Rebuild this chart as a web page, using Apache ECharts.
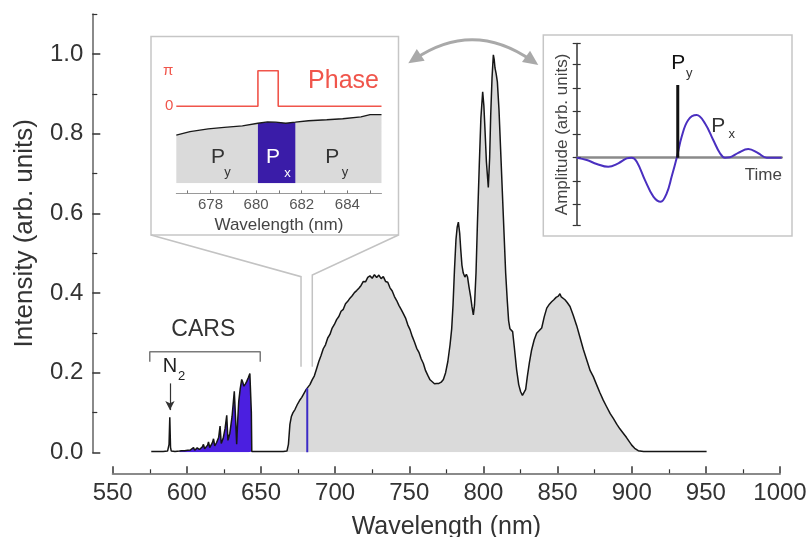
<!DOCTYPE html>
<html><head><meta charset="utf-8">
<script src="https://cdn.jsdelivr.net/npm/echarts@6/dist/echarts.min.js"></script>
<style>html,body{margin:0;padding:0;background:#fff}#c{width:812px;height:537px}</style>
</head><body><div id="c"></div>
<script>
// ---------------- DATA ----------------
const carsWavelength = [576,580,584,587,588,588.5,589,589.5,592,595,596.5,597.5,598.5,599.5,600.5,601.5,602.5,603.5,604.5,605.3,606,607,607.8,608.5,609.5,610.5,611.2,612,613,614,614.6,615.4,616.5,617.3,618,618.8,620,621.5,622.4,623.2,624.5,625.8,626.9,627.7,629,630.5,632,632.8,633.6,634.3,635,636,637,637.8,638.5,639.5,640.4,641.5,642.5,643.1,643.5,643.8];
const carsIntensity  = [0.002,0.002,0.002,0.003,0.02,0.088,0.012,0.003,0.002,0.003,0.004,0.007,0.004,0.008,0.005,0.009,0.006,0.009,0.012,0.005,0.008,0.011,0.015,0.007,0.011,0.014,0.02,0.009,0.014,0.018,0.026,0.012,0.019,0.025,0.034,0.016,0.024,0.038,0.066,0.022,0.035,0.06,0.093,0.03,0.048,0.09,0.153,0.09,0.02,0.08,0.128,0.16,0.183,0.175,0.166,0.172,0.178,0.188,0.198,0.202,0.1,0.002];

const mainWavelength = [648,655,660,665,667.5,668.5,669.5,670.5,671.5,673,674.5,676,677.5,679,680.5,681.5,683,684.5,686,687.5,689,690.5,692,693.5,695,696.5,698,699.5,701,702.5,704,705.5,707,708.5,710,711.5,713,714.5,716,717.5,719,720.5,722,723.5,725,726.5,728,729.5,731,732.5,734,735.5,737,738.5,740,741.5,743,744.5,746,747.5,749,750.5,752,753.5,755,756.5,758,759.5,761,762.5,764,765.5,767,768.5,770,771.5,773,774.5,776,777.5,778.6,779.5,780.5,781.5,782.3,783.1,784,784.7,785.5,786.4,787.5,788.5,789.3,790.3,791.4,792.3,793.2,794,795,796,797.2,798.3,799.5,800.3,801,802,803.3,804.2,804.9,805.8,806.7,807.3,807.8,808.6,809.4,810.5,811.6,812.8,813.9,815,816.1,817,817.9,818.8,819.7,820.8,822.4,823.8,825.1,826.3,827.4,828.5,829.6,831,832.5,834.2,835.9,837.5,839.3,841,842.7,844.5,846,847.5,849,850.5,851.6,852.5,853.5,855,856.5,858.4,860.5,862.9,865,867.4,870,872,874.1,876.5,878.5,880.8,883,885.5,887.6,890,892,894.3,896.5,898.5,900,902,904.4,908,915,925,935,945,950.5];
const mainIntensity  = [0.002,0.002,0.002,0.002,0.003,0.02,0.07,0.09,0.099,0.108,0.12,0.13,0.138,0.148,0.158,0.163,0.17,0.182,0.192,0.21,0.228,0.243,0.26,0.27,0.287,0.296,0.312,0.321,0.333,0.341,0.354,0.359,0.373,0.379,0.387,0.393,0.401,0.406,0.412,0.419,0.429,0.428,0.439,0.443,0.437,0.446,0.439,0.445,0.436,0.441,0.429,0.427,0.413,0.405,0.391,0.381,0.369,0.359,0.348,0.337,0.32,0.308,0.291,0.277,0.261,0.251,0.235,0.223,0.205,0.193,0.182,0.177,0.172,0.173,0.173,0.176,0.183,0.2,0.228,0.27,0.31,0.37,0.46,0.535,0.565,0.578,0.55,0.51,0.47,0.45,0.44,0.447,0.44,0.415,0.39,0.365,0.345,0.37,0.45,0.58,0.72,0.84,0.905,0.87,0.815,0.73,0.665,0.74,0.845,0.94,0.998,0.985,0.965,0.95,0.93,0.86,0.76,0.65,0.55,0.45,0.38,0.33,0.31,0.312,0.303,0.265,0.207,0.17,0.152,0.143,0.14,0.158,0.19,0.225,0.257,0.282,0.299,0.305,0.312,0.34,0.362,0.372,0.378,0.383,0.389,0.392,0.398,0.39,0.393,0.383,0.376,0.366,0.345,0.318,0.29,0.258,0.228,0.205,0.19,0.168,0.15,0.131,0.115,0.097,0.085,0.07,0.059,0.048,0.037,0.026,0.018,0.01,0.004,0.002,0.002,0.002,0.002,0.002,0.002];

// wavelength of the shaped (Px) pixel marked on the main spectrum, and its intensity
const pxMarkerWavelength = [681.2, 681.2];
const pxMarkerIntensity  = [0, 0.161];

// inset 1: zoomed spectrum, phase mask
const insetWavelength = [676.5,677.1,677.9,678.6,679.4,680.08,680.5,680.86,681.3,681.72,682.3,683.1,683.8,684.6,685,685.5];
const insetIntensity  = [0.1428,0.1458,0.1482,0.1497,0.1509,0.1533,0.1545,0.1542,0.1533,0.1542,0.1555,0.1564,0.1573,0.159,0.1609,0.1609];
const pxBand = [680.08, 681.72];
const phaseWavelength = [676.5,680.08,680.08,680.97,680.97,685.5];
const phaseValue      = [0,0,Math.PI,Math.PI,0,0];
const insetTickLabels = [678,680,682,684];
const insetTicks      = [677,678,679,680,681,682,683,684,685];

// inset 2: time domain
const timeAxis = [0,4.9,9.8,15.4,20.3,24.4,26.8,29.3,33.3,37.4,41,43.9,46.3,48.8,51.2,54.4,58.5,62.6,66.6,69.9,72.3,74.8,78.8,83.7,88.6,92.7,100];
const pxAmplitude = [0,-0.1,-0.27,-0.39,-0.24,-0.03,0,-0.17,-0.96,-1.67,-1.89,-1.53,-0.82,0,0.9,1.62,1.83,1.47,0.76,0.19,0,0.02,0.21,0.37,0.19,0,0];
const pyTime = [49.3, 49.3];
const pyAmplitude = [0, 3.12];
const ampTicks = [-2.9,-2,-1,0,1,2,3,4,4.9];

// main axis ticks
const yMajorTicks = [0,0.2,0.4,0.6,0.8,1.0];
const yMinorTicks = [0.1,0.3,0.5,0.7,0.9,1.1];

// annotations (data coordinates)
const carsBracketWl = [575,575,649.5,649.5];
const carsBracketI  = [0.2275,0.2526,0.2526,0.2275];
const n2Arrow = {wl:588.6, from:0.173, to:0.106};
const zoomLineWl = [677.0, 684.6];
const zoomLineBend = [0.441, 0.445];
const zoomLineBottom = 0.215;

// ---------------- CHART ----------------
const FONT = "'Liberation Sans', Arial, Helvetica, sans-serif";
const zip = (a,b)=>a.map((v,i)=>[v,b[i]]);
const carsPairs = zip(carsWavelength, carsIntensity);
const mainPairs = zip(mainWavelength, mainIntensity);
const allPairs = carsPairs.concat(mainPairs);
const grayPairs = mainPairs.filter(p=>p[0]>=667.5);
const bluePairs = carsPairs.filter(p=>p[0]>=595);
const insetPairs = zip(insetWavelength, insetIntensity);
const pxPairs = insetPairs.filter(p=>p[0]>=pxBand[0]-1e-9 && p[0]<=pxBand[1]+1e-9);

const chart = echarts.init(document.getElementById('c'), null, {renderer:'canvas'});

const G0 = {left:112.7, top:14.2, width:667.3, height:438.1, outerBoundsMode:'none'};
const G1 = {left:176.3, top:70.7, width:205.2, height:112.5, outerBoundsMode:'none'};
const G2 = {left:176.3, top:70.7, width:205.2, height:35.6, outerBoundsMode:'none'};
const G3 = {left:576.7, top:43.5, width:205, height:181.8, outerBoundsMode:'none'};

const noAxis = {axisLine:{show:false},axisTick:{show:false},axisLabel:{show:false},splitLine:{show:false}};

const option = {
  animation:false,
  textStyle:{fontFamily:FONT},
  grid:[G0, G1, G2, G3, Object.assign({},G0), Object.assign({},G3)],
  xAxis:[
    {gridIndex:0, type:'value', min:550, max:1000, interval:50, position:'bottom', offset:21,
     axisLine:{onZero:false, lineStyle:{color:'#8a8a8a', width:2}},
     axisTick:{inside:true, length:7, lineStyle:{color:'#333', width:1.5}},
     minorTick:{show:true, splitNumber:2, length:4, lineStyle:{color:'#333', width:1.2}},
     axisLabel:{fontSize:24, color:'#333', margin:8, fontFamily:FONT, formatter:v=>String(Math.round(v))},
     splitLine:{show:false},
     name:'Wavelength (nm)', nameLocation:'middle', nameGap:41,
     nameTextStyle:{fontSize:25, color:'#333', fontFamily:FONT}},
    {gridIndex:1, type:'value', min:676.5, max:685.5, position:'bottom', offset:10.2,
     axisLine:{onZero:false, lineStyle:{color:'#9a9a9a', width:1}},
     axisTick:{inside:true, length:3, customValues:insetTicks, lineStyle:{color:'#777', width:1}},
     axisLabel:{customValues:insetTickLabels, fontSize:15, color:'#555', margin:4, fontFamily:FONT, formatter:v=>String(Math.round(v))},
     splitLine:{show:false},
     name:'Wavelength (nm)', nameLocation:'middle', nameGap:23,
     nameTextStyle:{fontSize:17, color:'#444', fontFamily:FONT}},
    Object.assign({gridIndex:2, type:'value', min:676.5, max:685.5}, noAxis),
    {gridIndex:3, type:'value', min:0, max:100,
     axisLine:{show:true, onZero:true, lineStyle:{color:'#8a8a8a', width:2.5}},
     axisTick:{show:false}, axisLabel:{show:false}, splitLine:{show:false}},
    Object.assign({gridIndex:4, type:'value', min:550, max:1000}, noAxis),
    Object.assign({gridIndex:5, type:'value', min:0, max:100}, noAxis)
  ],
  yAxis:[
    {gridIndex:0, type:'value', min:0, max:1.1, position:'left', offset:20.4,
     axisLine:{show:true, onZero:false, lineStyle:{color:'#8a8a8a', width:2}},
     axisTick:{show:true, inside:true, length:8, customValues:yMajorTicks, lineStyle:{color:'#333', width:1.5}},
     axisLabel:{customValues:yMajorTicks, formatter:v=>Number(v).toFixed(1), fontSize:24, color:'#333', margin:9, fontFamily:FONT},
     splitLine:{show:false},
     name:'Intensity (arb. units)', nameLocation:'middle', nameGap:54,
     nameTextStyle:{fontSize:26, color:'#333', fontFamily:FONT}},
    Object.assign({gridIndex:1, type:'value', min:0.10, max:0.20}, noAxis),
    {gridIndex:2, type:'value', min:0, max:Math.PI,
     axisLine:{show:false}, axisTick:{show:false}, splitLine:{show:false},
     axisLabel:{customValues:[0, Math.PI], formatter:v=>(v>1?'π':'0'), color:'#f0554b', fontSize:15, margin:3, fontFamily:FONT}},
    {gridIndex:3, type:'value', min:-2.9, max:4.9, position:'left',
     axisLine:{show:true, onZero:false, lineStyle:{color:'#333', width:1.5}},
     axisTick:{show:true, inside:false, length:4, customValues:ampTicks, lineStyle:{color:'#333', width:1.2}},
     axisLabel:{show:false}, splitLine:{show:false},
     name:'Amplitude (arb. units)', nameLocation:'middle', nameGap:6,
     nameTextStyle:{fontSize:17, color:'#444', fontFamily:FONT}},
    {gridIndex:4, type:'value', min:0, max:1.1, position:'left', offset:20.4,
     axisLine:{show:false},
     axisTick:{show:true, inside:true, length:5, customValues:yMinorTicks, lineStyle:{color:'#333', width:1.2}},
     axisLabel:{show:false}, splitLine:{show:false}},
    {gridIndex:5, type:'value', min:-2.9, max:4.9, position:'left',
     axisLine:{show:false},
     axisTick:{show:true, inside:true, length:4, customValues:ampTicks, lineStyle:{color:'#333', width:1.2}},
     axisLabel:{show:false}, splitLine:{show:false}}
  ],
  series:[
    {type:'line', xAxisIndex:0, yAxisIndex:0, data:grayPairs, symbol:'none', silent:true,
     lineStyle:{width:0}, areaStyle:{color:'#dadada', opacity:1}, z:1},
    {type:'line', xAxisIndex:0, yAxisIndex:0, data:bluePairs, symbol:'none', silent:true,
     lineStyle:{width:0}, areaStyle:{color:'#4b1fe0', opacity:1}, z:1},
    {type:'line', xAxisIndex:0, yAxisIndex:0, data:allPairs, symbol:'none', silent:true,
     lineStyle:{color:'#151515', width:1.5}, z:3},
    {type:'line', xAxisIndex:0, yAxisIndex:0, data:zip(pxMarkerWavelength, pxMarkerIntensity), symbol:'none', silent:true,
     lineStyle:{color:'#3b2ac6', width:2}, z:4},
    {type:'line', xAxisIndex:0, yAxisIndex:0, data:zip(carsBracketWl, carsBracketI), symbol:'none', silent:true,
     lineStyle:{color:'#7a7a7a', width:1.5}, z:3,
     markLine:{silent:true, symbol:['none','arrow'], symbolSize:[7,9], label:{show:false},
       lineStyle:{color:'#333', width:1.2, type:'solid'},
       data:[[{coord:[n2Arrow.wl, n2Arrow.from]},{coord:[n2Arrow.wl, n2Arrow.to]}]]}},
    // inset 1
    {type:'line', xAxisIndex:1, yAxisIndex:1, data:insetPairs, symbol:'none', silent:true,
     lineStyle:{width:0}, areaStyle:{color:'#dadada', opacity:1, origin:'start'}, z:2},
    {type:'line', xAxisIndex:1, yAxisIndex:1, data:pxPairs, symbol:'none', silent:true,
     lineStyle:{width:0}, areaStyle:{color:'#3a1ca8', opacity:1, origin:'start'}, z:3},
    {type:'line', xAxisIndex:1, yAxisIndex:1, data:insetPairs, symbol:'none', silent:true,
     lineStyle:{color:'#1a1a1a', width:1.3}, z:4},
    {type:'line', xAxisIndex:2, yAxisIndex:2, data:zip(phaseWavelength, phaseValue), symbol:'none', silent:true,
     lineStyle:{color:'#f0554b', width:1.6}, z:4},
    // inset 2
    {type:'line', xAxisIndex:3, yAxisIndex:3, data:zip(timeAxis, pxAmplitude), symbol:'none', silent:true, smooth:0.4,
     lineStyle:{color:'#4a2fc0', width:2}, z:4},
    {type:'line', xAxisIndex:3, yAxisIndex:3, data:zip(pyTime, pyAmplitude), symbol:'none', silent:true,
     lineStyle:{color:'#111', width:3}, z:5}
  ]
};
chart.setOption(option);

// -------- annotations (graphics) --------
const px = (wl, v) => chart.convertToPixel({xAxisIndex:0, yAxisIndex:0}, [wl, v]);
const box1 = {x:151, y:36.5, w:247.5, h:198.5};
const box2 = {x:543.3, y:35, w:248.7, h:201};
const lBend = px(zoomLineWl[0], zoomLineBend[0]), lBot = px(zoomLineWl[0], zoomLineBottom);
const rBend = px(zoomLineWl[1], zoomLineBend[1]), rBot = px(zoomLineWl[1], zoomLineBottom);

function arrowHead(tip, ctrl, L, W){
  const dx = tip[0]-ctrl[0], dy = tip[1]-ctrl[1];
  const n = Math.hypot(dx,dy), ux = dx/n, uy = dy/n;
  const bx = tip[0]-ux*L, by = tip[1]-uy*L;
  return [[tip[0],tip[1]],[bx-uy*W, by+ux*W],[bx+uy*W, by-ux*W]];
}
const aL = [408.3,63.3], aR = [538.3,65], aC = [473.3,19.3];
const arrowColor = '#a9a9a9';

function txt(x,y,text,size,color,extra){
  return Object.assign({type:'text', x:x, y:y, z:100, silent:true,
    style:{text:text, fontSize:size, fill:color, fontFamily:FONT, align:'center', verticalAlign:'middle'}}, extra||{});
}

chart.setOption({graphic:[
  {type:'rect', z:0, silent:true, shape:{x:box1.x,y:box1.y,width:box1.w,height:box1.h}, style:{fill:'#fff', stroke:'#c6c6c6', lineWidth:1.5}},
  {type:'rect', z:0, silent:true, shape:{x:box2.x,y:box2.y,width:box2.w,height:box2.h}, style:{fill:'#fff', stroke:'#c6c6c6', lineWidth:1.5}},
  {type:'polyline', z:0, silent:true, shape:{points:[[box1.x, box1.y+box1.h], lBend, lBot]}, style:{stroke:'#c3c3c3', lineWidth:1.5, fill:null}},
  {type:'polyline', z:0, silent:true, shape:{points:[[box1.x+box1.w, box1.y+box1.h], rBend, rBot]}, style:{stroke:'#c3c3c3', lineWidth:1.5, fill:null}},
  {type:'bezierCurve', z:10, silent:true, shape:{x1:aL[0]+6,y1:aL[1]-4,x2:aR[0]-6,y2:aR[1]-4,cpx1:aC[0],cpy1:aC[1]}, style:{stroke:arrowColor, lineWidth:3, fill:null}},
  {type:'polygon', z:10, silent:true, shape:{points:arrowHead(aL, aC, 15, 7)}, style:{fill:arrowColor}},
  {type:'polygon', z:10, silent:true, shape:{points:arrowHead(aR, aC, 15, 7)}, style:{fill:arrowColor}},
  // inset 1 texts
  txt(343.5, 80.8, 'Phase', 25, '#f0554b'),
  txt(218, 157, 'P', 21, '#333'), txt(227.5, 172, 'y', 13, '#333'),
  txt(272.9, 157, 'P', 21, '#fff'), txt(287.5, 173, 'x', 13, '#fff'),
  txt(332.2, 157, 'P', 21, '#333'), txt(345, 172, 'y', 13, '#333'),
  // inset 2 texts
  txt(678.3, 63.3, 'P', 21, '#111'), txt(689.3, 73.3, 'y', 13, '#333'),
  txt(718.3, 126.7, 'P', 21, '#333'), txt(731.7, 134, 'x', 13, '#333'),
  txt(763.3, 175.7, 'Time', 17, '#444'),
  // main annotations
  txt(203.3, 330, 'CARS', 23, '#333'),
  txt(170, 366.7, 'N', 20, '#222'), txt(181.7, 376.7, '2', 13, '#222')
]});
</script>
</body></html>
